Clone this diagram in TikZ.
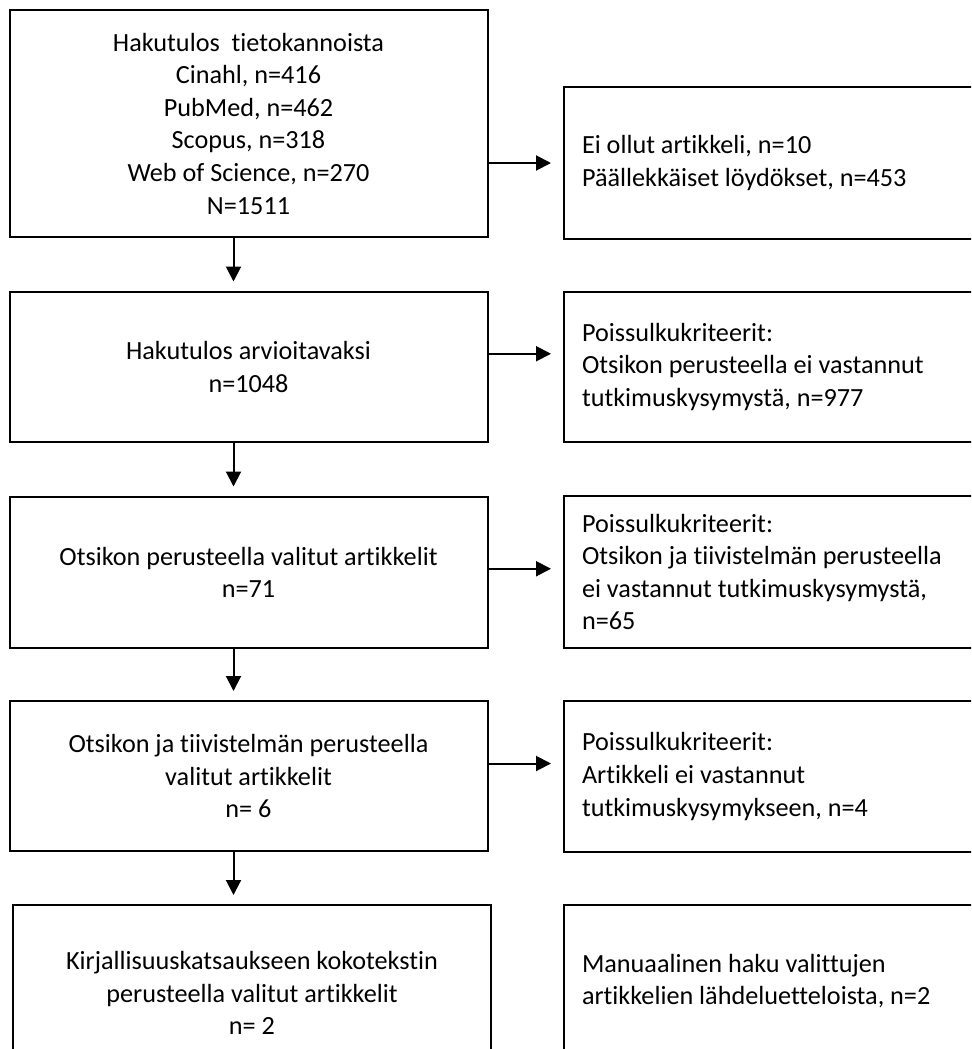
\documentclass[tikz,border=0pt]{standalone}
\usepackage{fontspec}
\setmainfont{Carlito}[RawFeature=-liga]
\usetikzlibrary{arrows.meta,positioning}

\begin{document}
\begin{tikzpicture}[x=0.5pt,y=-0.5pt,font=\fontsize{13.1}{16.3}\selectfont\frenchspacing,
    box/.style={draw, line width=1pt, anchor=north west, minimum width=239pt, align=center, inner sep=0pt},
    sidebox/.style={draw, line width=1pt, anchor=north west, text width=201pt, align=flush left, inner xsep=9pt, inner ysep=0pt},
    arr/.style={-{Triangle[length=7.5pt,width=7.5pt]}, line width=1pt}]
    \path[use as bounding box, clip] (0,0) rectangle (971,1049);
    % left column
    \node[box, minimum height=113.5pt] (b1) at (8.5,9) {Hakutulos\ \ tietokannoista\\Cinahl, n=416\\PubMed, n=462\\Scopus, n=318\\Web of Science, n=270\\N=1511};
    \node[box, minimum height=75.25pt] (b2) at (8.5,290.5) {Hakutulos arvioitavaksi\\n=1048};
    \node[box, minimum height=75.75pt] (b3) at (8.5,495.5) {Otsikon perusteella valitut artikkelit\\n=71};
    \node[box, minimum height=75pt] (b4) at (8.5,700) {Otsikon ja tiivistelmän perusteella\\valitut artikkelit\\n= 6};
    \node[box, minimum height=88pt] (b5) at (12,904) {Kirjallisuuskatsaukseen kokotekstin\\perusteella valitut artikkelit\\n= 2};
    % right column
    \node[sidebox, minimum height=76pt] (r1) at (563,86) {Ei ollut artikkeli, n=10\\Päällekkäiset löydökset, n=453};
    \node[sidebox, minimum height=75.25pt] (r2) at (563,290.5) {Poissulkukriteerit:\\Otsikon perusteella ei vastannut\\tutkimuskysymystä, n=977};
    \node[sidebox, minimum height=76pt] (r3) at (563,495) {Poissulkukriteerit:\\Otsikon ja tiivistelmän perusteella\\ei vastannut tutkimuskysymystä,\\n=65};
    \node[sidebox, minimum height=75.5pt] (r4) at (563,700) {Poissulkukriteerit:\\Artikkeli ei vastannut\\tutkimuskysymykseen, n=4};
    \node[sidebox, minimum height=76pt] (r5) at (563,904) {Manuaalinen haku valittujen\\artikkelien lähdeluetteloista, n=2};
    % arrows
    \foreach \a/\b in {b1/b2,b2/b3,b3/b4,b4/b5}
        \draw[arr, shorten >=4.5pt] ([xshift=-7.5pt]\a.south) -- ([xshift=-7.5pt]\a.south |- \b.north);
    \draw[arr, shorten >=6pt] (b1.east |- r1.west) -- (r1.west);
    \foreach \a/\b/\s in {b2/r2/6.5pt,b3/r3/1.75pt,b4/r4/6.25pt}
        \draw[arr, shorten >=6pt] ([yshift=\s]\a.east) -- ([yshift=\s]\a.east -| \b.west);
\end{tikzpicture}
\end{document}
